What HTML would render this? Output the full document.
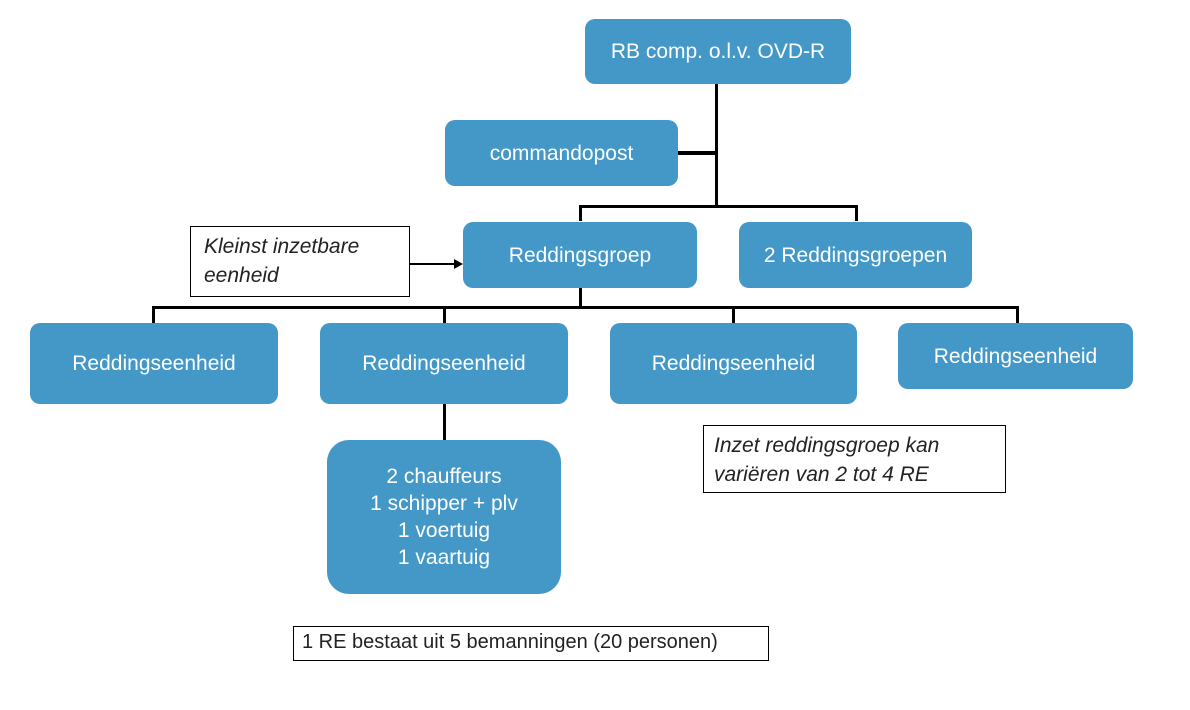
<!DOCTYPE html>
<html><head><meta charset="utf-8"><style>
body{margin:0;width:1190px;height:710px;background:#fff;position:relative;overflow:hidden;font-family:"Liberation Sans",Arial,sans-serif}
.b{position:absolute;background:#4398c8;color:#fff;border-radius:10px;display:flex;align-items:center;justify-content:center;text-align:center;font-size:21px;line-height:27px}
.l{position:absolute;background:#000}
.n{position:absolute;border:1.5px solid #000;box-sizing:border-box;font-size:21px;color:#222;background:#fff}
</style></head><body>
<div class="b" style="left:585px;top:19px;width:266px;height:65px">RB comp. o.l.v. OVD-R</div>
<div class="b" style="left:445px;top:120px;width:233px;height:66px">commandopost</div>
<div class="l" style="left:715px;top:84px;width:3px;height:123px"></div>
<div class="l" style="left:678px;top:151px;width:38px;height:4px"></div>
<div class="l" style="left:579px;top:205px;width:279px;height:3px"></div>
<div class="l" style="left:579px;top:205px;width:3px;height:16px"></div>
<div class="l" style="left:855px;top:205px;width:3px;height:16px"></div>
<div class="b" style="left:463px;top:222px;width:234px;height:66px">Reddingsgroep</div>
<div class="b" style="left:739px;top:222px;width:233px;height:66px">2 Reddingsgroepen</div>
<div class="n" style="left:190px;top:226px;width:220px;height:71px;padding:5px 0 0 13px;font-style:italic;line-height:29px">Kleinst inzetbare<br>eenheid</div>
<div class="l" style="left:410px;top:263px;width:46px;height:2px"></div>
<div style="position:absolute;left:454px;top:259px;width:0;height:0;border-left:9px solid #000;border-top:5px solid transparent;border-bottom:5px solid transparent"></div>
<div class="l" style="left:579px;top:288px;width:3px;height:20px"></div>
<div class="l" style="left:152px;top:306px;width:867px;height:3px"></div>
<div class="l" style="left:152px;top:306px;width:3px;height:17px"></div>
<div class="l" style="left:443px;top:306px;width:3px;height:17px"></div>
<div class="l" style="left:732px;top:306px;width:3px;height:17px"></div>
<div class="l" style="left:1016px;top:306px;width:3px;height:17px"></div>
<div class="b" style="left:30px;top:323px;width:248px;height:81px">Reddingseenheid</div>
<div class="b" style="left:320px;top:323px;width:248px;height:81px">Reddingseenheid</div>
<div class="b" style="left:610px;top:323px;width:247px;height:81px">Reddingseenheid</div>
<div class="b" style="left:898px;top:323px;width:235px;height:66px">Reddingseenheid</div>
<div class="l" style="left:443px;top:404px;width:3px;height:36px"></div>
<div class="b" style="left:327px;top:440px;width:234px;height:154px;border-radius:22px">2 chauffeurs<br>1 schipper + plv<br>1 voertuig<br>1 vaartuig</div>
<div class="n" style="left:703px;top:425px;width:303px;height:68px;padding:5px 0 0 10px;font-style:italic;line-height:29px">Inzet reddingsgroep kan<br>variëren van 2 tot 4 RE</div>
<div class="n" style="left:293px;top:626px;width:476px;height:35px;padding:4px 0 0 8px;font-size:20px">1 RE bestaat uit 5 bemanningen (20 personen)</div>
</body></html>
